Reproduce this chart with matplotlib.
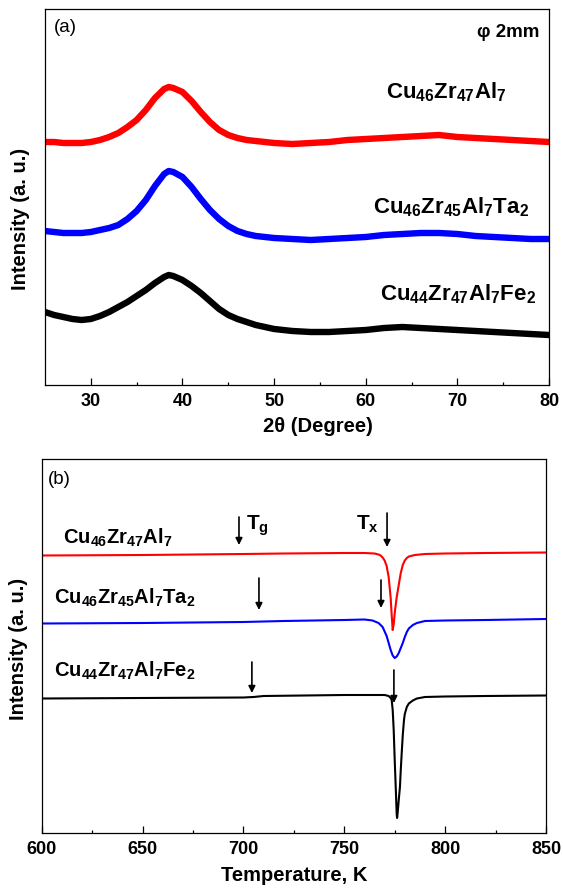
import matplotlib
matplotlib.use("Agg")
import matplotlib.pyplot as plt
import numpy as np

plt.rcParams['font.family'] = ['Liberation Sans', 'DejaVu Sans']
plt.rcParams['mathtext.fontset'] = 'custom'
plt.rcParams['mathtext.rm'] = 'Liberation Sans'
plt.rcParams['mathtext.bf'] = 'Liberation Sans:bold'
plt.rcParams['mathtext.it'] = 'Liberation Sans:italic'
plt.rcParams['mathtext.default'] = 'bf'

# ---- (a) XRD patterns (intensity in a.u.)
xrd_2theta = [25, 26, 27, 28, 29, 30, 31, 32, 33, 34, 35, 36, 37, 38, 38.5, 39, 40,
              41, 42, 43, 44, 45, 46, 47, 48, 49, 50, 52, 54, 56, 58, 60, 62, 64,
              66, 68, 70, 72, 74, 76, 78, 80]
xrd_al7 = [243, 243, 242, 242, 242, 243, 245, 248, 252, 258, 265, 275, 287, 296, 298,
           297, 293, 284, 273, 263, 255, 250, 247, 245, 244, 243, 242, 241, 242, 243,
           245, 246, 247, 248, 249, 250, 248, 247, 246, 245, 244, 243]
xrd_ta2 = [154, 153, 152, 152, 152, 153, 155, 157, 160, 166, 174, 185, 199, 211, 214,
           213, 208, 198, 186, 175, 166, 159, 154, 151, 149, 148, 147, 146, 145, 146,
           147, 148, 150, 151, 152, 152, 151, 149, 148, 147, 146, 146]
xrd_fe2 = [73, 70, 68, 66, 65, 66, 69, 73, 78, 83, 89, 95, 102, 108, 110, 109, 105,
           99, 92, 84, 76, 70, 66, 63, 60, 58, 56, 54, 53, 53, 54, 55, 57, 58, 57, 56,
           55, 54, 53, 52, 51, 50]

# ---- (b) DSC traces (temperature in K, signal in a.u.)
t_al7 = [600, 650, 700, 720, 750, 760, 765, 767, 768, 769, 770, 771, 772, 773, 773.5,
         774, 774.5, 775, 776, 777, 778, 779, 780, 781, 782, 785, 790, 800, 820, 850]
dsc_al7 = [277.5, 278, 279, 279.5, 280, 280, 279.5, 278.5, 277.5, 275.5, 272.5, 267, 256,
           235, 218, 203, 209, 220, 236, 248, 260, 268, 272.5, 275, 276.5, 278, 279,
           279.5, 280, 280.5]
t_ta2 = [600, 650, 700, 720, 750, 760, 764, 767, 769, 771, 772, 773, 774, 775, 776, 777,
         778, 779, 780, 781, 782, 784, 786, 790, 800, 820, 850]
dsc_ta2 = [209.5, 210, 211, 212, 213, 213.5, 212.5, 210, 206, 197, 190, 183, 177.5, 175,
           176.5, 180, 185, 190, 196, 201, 204.5, 208, 210, 212, 212.5, 213, 214]
t_fe2 = [600, 650, 700, 705, 710, 730, 750, 770, 772, 773, 773.5, 774, 774.5, 775, 775.5,
         776, 776.2, 776.5, 777, 777.6, 778, 778.5, 779, 779.6, 780, 781, 782, 784, 786,
         790, 800, 820, 850]
dsc_fe2 = [134.5, 135, 135.5, 136, 137, 137.5, 138, 138, 137, 135, 133, 123, 103, 73, 46,
           18, 15, 21, 33, 46, 63, 81, 98, 113, 119, 126, 129.5, 132.5, 134.5, 136, 136.5,
           137, 137.5]

# Tg / Tx arrow positions (K) and their tail/head heights
tg = [697.8, 707.7, 704.2]
tx = [771.2, 768.2, 774.6]
tg_span = [(316, 288), (255, 223), (171, 140)]
tx_span = [(320, 286), (253, 225), (163, 130)]

names = [r'$Cu_{46}Zr_{47}Al_{7}$', r'$Cu_{46}Zr_{45}Al_{7}Ta_{2}$', r'$Cu_{44}Zr_{47}Al_{7}Fe_{2}$']
colors = ['#ff0000', '#0000ff', '#000000']

fig = plt.figure(figsize=(5.63, 8.90), dpi=100)
ax1 = fig.add_axes([45 / 563, 1 - 385 / 890, 504 / 563, 376 / 890])
ax2 = fig.add_axes([41.7 / 563, 1 - 833 / 890, 504.3 / 563, 374 / 890])

for ax in (ax1, ax2):
    ax.tick_params(axis='x', which='both', direction='in', top=False, labelsize=13, pad=6)
    ax.tick_params(axis='x', which='major', length=5, width=0.9)
    ax.tick_params(axis='x', which='minor', length=2.5, width=0.9)
    ax.set_yticks([])
    for s in ax.spines.values():
        s.set_linewidth(0.9)

# panel (a)
ax1.plot(xrd_2theta, xrd_al7, color=colors[0], lw=4.6)
ax1.plot(xrd_2theta, xrd_ta2, color=colors[1], lw=4.6)
ax1.plot(xrd_2theta, xrd_fe2, color=colors[2], lw=4.6)
ax1.set_xlim(25, 80)
ax1.set_ylim(0, 376)
ax1.set_xticks([30, 40, 50, 60, 70, 80])
ax1.set_xticks(np.arange(35, 80, 10), minor=True)
ax1.set_xticklabels(['30', '40', '50', '60', '70', '80'], fontweight='bold')
ax1.set_xlabel('2θ (Degree)', fontsize=14.5, fontweight='bold')
ax1.xaxis.set_label_coords(0.541, -0.085)
ax1.set_ylabel('Intensity (a. u.)', fontsize=14.5, fontweight='bold')
ax1.yaxis.set_label_coords(-0.03, 0.441)
ax1.text(25.98, 358, '(a)', fontsize=13.5, va='center', ha='left')
ax1.text(79.0, 353, 'φ 2mm', fontsize=13.5, fontweight='bold', va='center', ha='right')
ax1.text(62.2, 287, names[0], fontsize=16, ha='left', va='baseline')
ax1.text(60.8, 172, names[1], fontsize=16, ha='left', va='baseline')
ax1.text(61.6, 85, names[2], fontsize=16, ha='left', va='baseline')

# panel (b)
ax2.plot(t_al7, dsc_al7, color=colors[0], lw=1.5)
ax2.plot(t_ta2, dsc_ta2, color=colors[1], lw=1.5)
ax2.plot(t_fe2, dsc_fe2, color=colors[2], lw=1.5)
ax2.set_xlim(600, 850)
ax2.set_ylim(0, 374)
ax2.set_xticks([600, 650, 700, 750, 800, 850])
ax2.set_xticks(np.arange(625, 850, 50), minor=True)
ax2.set_xticklabels(['600', '650', '700', '750', '800', '850'], fontweight='bold')
ax2.set_xlabel('Temperature, K', fontsize=14.5, fontweight='bold')
ax2.xaxis.set_label_coords(0.5, -0.088)
ax2.set_ylabel('Intensity (a. u.)', fontsize=14.5, fontweight='bold')
ax2.yaxis.set_label_coords(-0.028, 0.492)
ax2.text(603.1, 354, '(b)', fontsize=13.5, va='center', ha='left')
ax2.text(610.6, 289, names[0], fontsize=14.5, ha='left', va='baseline')
ax2.text(605.9, 229, names[1], fontsize=14.5, ha='left', va='baseline')
ax2.text(606.1, 156, names[2], fontsize=14.5, ha='left', va='baseline')

arrow = dict(arrowstyle='-|>', color='black', lw=1.2, mutation_scale=10, shrinkA=0, shrinkB=0)
for xg, (a0, a1) in zip(tg, tg_span):
    ax2.annotate('', xy=(xg, a1), xytext=(xg, a0), arrowprops=arrow)
for xx, (a0, a1) in zip(tx, tx_span):
    ax2.annotate('', xy=(xx, a1), xytext=(xx, a0), arrowprops=arrow)
ax2.text(701.5, 303, r'$T_g$', fontsize=15, ha='left', va='baseline')
ax2.text(756.0, 303, r'$T_x$', fontsize=15, ha='left', va='baseline')

fig.savefig('out.png', dpi=100)
